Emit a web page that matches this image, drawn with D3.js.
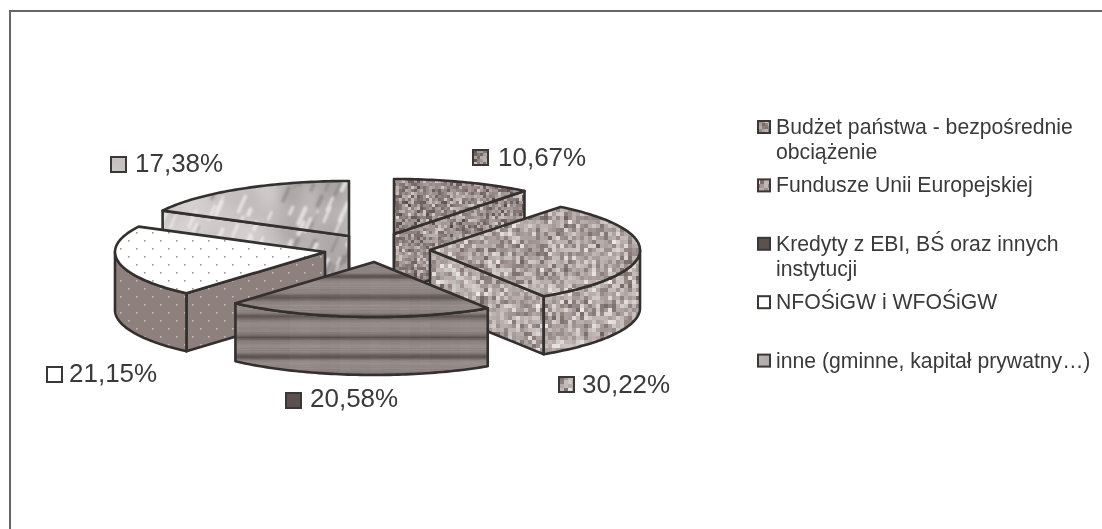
<!DOCTYPE html>
<html lang="pl">
<head>
<meta charset="utf-8">
<script src="https://cdn.jsdelivr.net/npm/d3@7"></script>
<style>
html,body{margin:0;padding:0;background:#fff;overflow:hidden}
svg{display:block;filter:blur(0.35px)}
text{font-family:"Liberation Sans",Arial,sans-serif;fill:#3a3a3a}
</style>
</head>
<body>
<svg id="chart" width="1102" height="529"></svg>
<script>
// ---- data ----
const categories = [
  "Budżet państwa - bezpośrednie obciążenie",
  "Fundusze Unii Europejskiej",
  "Kredyty z EBI, BŚ oraz innych instytucji",
  "NFOŚiGW i WFOŚiGW",
  "inne (gminne, kapitał prywatny…)"
];
const legendLines = [
  ["Budżet państwa - bezpośrednie", "obciążenie"],
  ["Fundusze Unii Europejskiej"],
  ["Kredyty z EBI, BŚ oraz innych", "instytucji"],
  ["NFOŚiGW i WFOŚiGW"],
  ["inne (gminne, kapitał prywatny…)"]
];
const shares = [10.67, 30.22, 20.58, 21.15, 17.38];
const shareLabels = ["10,67%", "30,22%", "20,58%", "21,15%", "17,38%"];

// ---- layout (not data) ----
const W = 1102, H = 529;
const RX = 210, RY = 55, DEPTH = 58;
const CX = 372, CY = 248;
const explode = [[22,-14],[58,2],[2,14],[-47,4],[-23,-12]];
const paintOrder = [4,0,3,1,2];
const labelPos = [[472,149,498,166],[558,376,582,393],[285,392,310,407],[46,366,69,382],[110,156,135,172]];
const LEG_X = 757, LEG_TEXT_X = 776, LEG_Y0 = 120, LEG_STEP = 58.4;

const svg = d3.select("#chart");
const defs = svg.append("defs");

// ---- surface textures (deterministic) ----
function prng(seed){let s=seed>>>0;return ()=>{s=(Math.imul(s,1664525)+1013904223)>>>0;return s/4294967296;};}
function makeCanvas(){const c=document.createElement("canvas");c.width=W;c.height=H;return c;}
function blockTexture(seed,cell,lo,hi,tint){
  const c=makeCanvas(),g=c.getContext("2d"),r=prng(seed);
  const col=d3.scaleLinear().domain([0,1]).range([lo,hi]);
  for(let y=0;y<H;y+=cell)for(let x=0;x<W;x+=cell){
    let v=r(); v=(v+r())/2;
    const q=d3.rgb(col(v)); q.r+=tint; q.b-=tint*0.2;
    g.fillStyle=q.toString(); g.fillRect(x,y,cell,cell);
  }
  return c;
}
function woodTexture(){
  const c=makeCanvas(),g=c.getContext("2d"),r=prng(77);
  const rows=d3.range(H).map(()=>r());
  const bands=[276,297,316,337,356,376];
  for(let x=0;x<W;x+=10){
    const xj=r();
    for(let y=0;y<H;y++){
      let v=138+(rows[y]-0.5)*10+(xj-0.5)*5+(r()-0.5)*3;
      bands.forEach(b=>{v-=44*Math.exp(-Math.pow((y-b)/2.8,2));});
      bands.forEach(b=>{v+=8*Math.exp(-Math.pow((y-b-9)/4,2));});
      g.fillStyle=`rgb(${v+2},${v-8},${v-10})`; g.fillRect(x,y,10,1);
    }
  }
  return c;
}
function marbleTexture(){
  const c=makeCanvas(),g=c.getContext("2d"),r=prng(13);
  const sx=55,sy=26;
  const s=document.createElement("canvas");s.width=sx;s.height=sy;
  const sg=s.getContext("2d");
  for(let y=0;y<sy;y++)for(let x=0;x<sx;x++){
    const px=x/sx*W, base=px<270?205:178;
    const v=base+(r()-0.5)*30;sg.fillStyle=`rgb(${v},${v-5},${v-6})`;sg.fillRect(x,y,1,1);
  }
  g.imageSmoothingEnabled=true;g.imageSmoothingQuality="high";
  g.drawImage(s,0,0,W,H);
  g.filter="blur(1.2px)";
  g.lineCap="round";
  for(let i=0;i<110;i++){
    const x=150+r()*210,y=175+r()*130,l=5+r()*13,dark=r()<0.3;
    g.strokeStyle=dark?"rgba(125,117,115,.5)":"rgba(240,238,236,.75)";
    g.lineWidth=1.5+r()*3;
    g.beginPath();g.moveTo(x,y);g.lineTo(x+l*0.45,y-l);g.stroke();
  }
  g.filter="none";
  return c;
}
function dotTexture(bg,dot){
  const c=makeCanvas(),g=c.getContext("2d");
  g.fillStyle=bg;g.fillRect(0,0,W,H);
  g.fillStyle=dot;
  for(let j=0,y=0;y<H;y+=8,j++)for(let x=(j%2)*8;x<W;x+=16){g.fillRect(x,y,1.6,1.6);}
  return c;
}
function addPattern(id,canvas){
  defs.append("pattern").attr("id",id).attr("patternUnits","userSpaceOnUse")
    .attr("width",W).attr("height",H)
    .append("image").attr("width",W).attr("height",H).attr("href",canvas.toDataURL("image/png"));
}
addPattern("tx0",blockTexture(5,3,"#4f4342","#dcd6d2",2));
addPattern("tx1",blockTexture(9,4,"#6a5e5c","#f0ece8",2));
addPattern("tx2",woodTexture());
addPattern("tx3top",dotTexture("#ffffff","#a3938f"));
addPattern("tx3side",dotTexture("#8e817d","#c2b8b4"));
addPattern("tx4",marbleTexture());
const topFill=["url(#tx0)","url(#tx1)","url(#tx2)","url(#tx3top)","url(#tx4)"];
const sideFill=["url(#tx0)","url(#tx1)","url(#tx2)","url(#tx3side)","url(#tx4)"];
const keyFill=["url(#tx0)","url(#tx1)","#5d5150","#ffffff","url(#tx4)"];

// ---- frame ----
svg.append("path").attr("d",d3.line()([[10,529],[10,11],[1102,11]]))
  .attr("fill","none").attr("stroke","#666").attr("stroke-width",2);

// ---- exploded 3-D pie ----
const arcs=d3.pie().sort(null).value(d=>d)(shares);
const xS=d3.scaleLinear().domain([-1,1]).range([-RX,RX]);
const yS=d3.scaleLinear().domain([-1,1]).range([-RY,RY]);
const line=d3.line();
const rim=(a,o,dz=0)=>[o[0]+xS(Math.sin(a)),o[1]-yS(Math.cos(a))+dz];
const rimPts=(a0,a1,o,dz=0)=>{
  const n=Math.max(2,Math.ceil((a1-a0)/0.02));
  return d3.range(n+1).map(i=>rim(a0+(a1-a0)*i/n,o,dz));
};
const styleFace=s=>s.attr("stroke","#33302f").attr("stroke-width",2.6).attr("stroke-linejoin","round");
const pieG=svg.append("g").attr("class","pie");
paintOrder.forEach(i=>{
  const d=arcs[i], a0=d.startAngle, a1=d.endAngle;
  const o=[CX+explode[i][0],CY+explode[i][1]];
  const g=pieG.append("g");
  const wall=(pts)=>{
    const low=pts.map(p=>[p[0],p[1]+DEPTH]).reverse();
    g.append("path").attr("d",line(pts.concat(low))+"Z").attr("fill",sideFill[i]).call(styleFace);
  };
  if(Math.sin(a0)<-1e-6) wall([o,rim(a0,o)]);
  if(Math.sin(a1)>1e-6) wall([o,rim(a1,o)]);
  const f0=Math.max(a0,Math.PI/2), f1=Math.min(a1,Math.PI*1.5);
  if(f1>f0) wall(rimPts(f0,f1,o));
  if(Math.abs(Math.sin(a0))<1e-6 || Math.abs(Math.sin(a1))<1e-6){
    g.append("path").attr("d",line([o,[o[0],o[1]+DEPTH]])).attr("fill","none").call(styleFace);
  }
  g.append("path").attr("d",line([o].concat(rimPts(a0,a1,o)))+"Z").attr("fill",topFill[i]).call(styleFace);
});

// ---- value labels ----
const lab=svg.append("g").selectAll("g").data(shareLabels).join("g");
lab.append("rect").attr("x",(d,i)=>labelPos[i][0]+1).attr("y",(d,i)=>labelPos[i][1]+1)
  .attr("width",15).attr("height",15).attr("fill",(d,i)=>keyFill[i])
  .attr("stroke","#3a3736").attr("stroke-width",2);
lab.append("text").attr("x",(d,i)=>labelPos[i][2]).attr("y",(d,i)=>labelPos[i][3])
  .attr("font-size",26).text(d=>d);

// ---- legend ----
const leg=svg.append("g").selectAll("g").data(categories).join("g");
leg.append("rect").attr("x",LEG_X+1).attr("y",(d,i)=>LEG_Y0+i*LEG_STEP+1)
  .attr("width",12).attr("height",12).attr("fill",(d,i)=>keyFill[i])
  .attr("stroke","#3a3736").attr("stroke-width",2);
leg.append("text").attr("font-size",21.2)
  .selectAll("tspan").data((d,i)=>legendLines[i].map(t=>({t,i}))).join("tspan")
  .attr("x",LEG_TEXT_X)
  .attr("y",(d,j)=>LEG_Y0+d.i*LEG_STEP+14+j*25)
  .text(d=>d.t);
</script>
</body>
</html>
